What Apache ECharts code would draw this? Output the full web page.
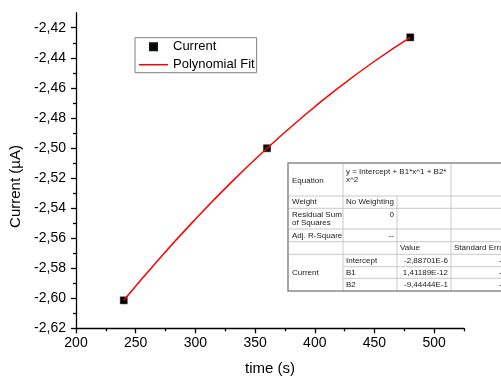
<!DOCTYPE html>
<html>
<head>
<meta charset="utf-8">
<script src="https://cdn.jsdelivr.net/npm/echarts@6/dist/echarts.min.js"></script>
<style>
html,body{margin:0;padding:0;background:#fff;}
#chart{width:501px;height:378px;}
</style>
</head>
<body>
<div id="chart"></div>
<script>
// ---- data ----
const timeValues = [240, 360, 480];
const currentValues = [-2.6014, -2.5002, -2.4264];
const fitTime = [240, 270, 300, 330, 360, 390, 420, 450, 480];
const fitCurrent = [-2.6014, -2.5735, -2.5474, -2.5229, -2.5002, -2.4792, -2.4599, -2.4423, -2.4264];
const xMajorTicks = [200, 250, 300, 350, 400, 450, 500];
const xMinorTicks = [225, 275, 325, 375, 425, 475, 525];
const yMajorTicks = [-2.62, -2.60, -2.58, -2.56, -2.54, -2.52, -2.50, -2.48, -2.46, -2.44, -2.42];
const yMinorTicks = [-2.61, -2.59, -2.57, -2.55, -2.53, -2.51, -2.49, -2.47, -2.45, -2.43];
const seriesNames = ['Current', 'Polynomial Fit'];
const xTitle = 'time (s)';
const yTitle = 'Current (µA)';
// fit report table texts
const reportLabels = ['Equation', 'Weight', 'Residual Sum\nof Squares', 'Adj. R-Square', '', 'Current'];
const reportEquation = 'y = Intercept + B1*x^1 + B2*\nx^2';
const reportWeight = 'No Weighting';
const reportRSS = '0';
const reportAdjR2 = '--';
const reportHeaders = ['Value', 'Standard Error'];
const paramNames = ['Intercept', 'B1', 'B2'];
const paramValues = ['-2,88701E-6', '1,41189E-12', '-9,44444E-1'];
const paramErrors = ['--', '--', '--'];

const FONT = '"Liberation Sans", Arial, sans-serif';
const fmtComma = (v, d) => v.toFixed(d).replace('.', ',');

const chart = echarts.init(document.getElementById('chart'), null, {renderer: 'canvas'});

// ---- table graphic ----
const cx = [288, 343, 397, 451, 545];
const ry = [163, 196, 208.3, 229, 241.7, 254.3, 266.7, 278.3, 291];
const gridCol = '#c8c8c8';
const txtCol = '#1a1a1a';
const tfs = 8;
const els = [];
els.push({type: 'rect', shape: {x: cx[0], y: ry[0], width: cx[4] - cx[0], height: ry[8] - ry[0]},
  style: {fill: '#fff', stroke: 'none'}, z: 10});
function hline(y, x1, x2) {
  els.push({type: 'line', shape: {x1: x1, y1: y, x2: x2, y2: y}, style: {stroke: gridCol, lineWidth: 1}, z: 11});
}
function vline(x, y1, y2) {
  els.push({type: 'line', shape: {x1: x, y1: y1, x2: x, y2: y2}, style: {stroke: gridCol, lineWidth: 1}, z: 11});
}
for (let i = 1; i <= 5; i++) hline(ry[i], cx[0], cx[4]);
hline(ry[6], cx[1], cx[4]);
hline(ry[7], cx[1], cx[4]);
vline(cx[1], ry[0], ry[8]);
vline(cx[2], ry[1], ry[8]);
vline(cx[3], ry[0], ry[8]);
els.push({type: 'rect', shape: {x: cx[0], y: ry[0], width: cx[4] - cx[0], height: ry[8] - ry[0]},
  style: {fill: 'none', stroke: '#8a8a8a', lineWidth: 1.5}, z: 12});
function txt(s, x, y, align, valign) {
  els.push({type: 'text', x: x, y: y, z: 13,
    style: {text: s, fill: txtCol, font: tfs + 'px ' + FONT, align: align || 'left', verticalAlign: valign || 'middle', lineHeight: 8.5}});
}
const mid = (a, b) => (a + b) / 2;
txt(reportLabels[0], cx[0] + 4, mid(ry[0], ry[1]) + 1.5);
txt(reportLabels[1], cx[0] + 4, mid(ry[1], ry[2]));
txt(reportLabels[2], cx[0] + 4, mid(ry[2], ry[3]));
txt(reportLabels[3], cx[0] + 4, mid(ry[3], ry[4]));
txt(reportLabels[5], cx[0] + 4, mid(ry[5], ry[8]));
txt(reportEquation, cx[1] + 3, ry[0] + 4.5, 'left', 'top');
txt(reportWeight, cx[1] + 3, mid(ry[1], ry[2]));
txt(reportRSS, cx[2] - 3, ry[2] + 6, 'right');
txt(reportAdjR2, cx[2] - 3, mid(ry[3], ry[4]), 'right');
txt(reportHeaders[0], cx[2] + 3, mid(ry[4], ry[5]));
txt(reportHeaders[1], cx[3] + 3, mid(ry[4], ry[5]));
for (let i = 0; i < 3; i++) {
  const yy = mid(ry[5 + i], ry[6 + i]);
  txt(paramNames[i], cx[1] + 3, yy);
  txt(paramValues[i], cx[3] - 3, yy, 'right');
  txt(paramErrors[i], cx[3] + 53, yy, 'right');
}

const axisLabelStyle = {fontFamily: FONT, fontSize: 14, color: '#000'};

chart.setOption({
  animation: false,
  backgroundColor: '#fff',
  grid: {left: 76, right: 37, top: 12.7, bottom: 49.7, containLabel: false, outerBoundsMode: 'none'},
  legend: {
    orient: 'vertical', left: 135, top: 37.7,
    padding: [1, 2, 1, 3], itemGap: 3, itemWidth: 29, itemHeight: 14,
    borderColor: '#808080', borderWidth: 1,
    textStyle: {fontFamily: FONT, fontSize: 13, color: '#000'},
    data: [
      {name: seriesNames[0], icon: 'path://M0,0M29,14M11,3.5h7v7h-7z'},
      {name: seriesNames[1], icon: 'path://M0,0M29,14M0,6.25h29v1.5h-29z'}
    ]
  },
  xAxis: [{
    type: 'value', min: 200, max: 525, interval: 25, position: 'bottom',
    name: xTitle, nameLocation: 'middle', nameGap: 33,
    nameTextStyle: {fontFamily: FONT, fontSize: 15, color: '#000'},
    axisLine: {show: true, onZero: false, lineStyle: {color: '#000', width: 1.3}},
    axisTick: {show: true, inside: false, length: 5, lineStyle: {color: '#000', width: 1.3}, customValues: xMajorTicks},
    axisLabel: {show: true, margin: 8, customValues: xMajorTicks, formatter: v => String(v), ...axisLabelStyle},
    splitLine: {show: false}
  }, {
    type: 'value', min: 200, max: 525, interval: 25, position: 'bottom',
    axisLine: {show: false, onZero: false},
    axisTick: {show: true, inside: false, length: 3, lineStyle: {color: '#000', width: 1.3}, customValues: xMinorTicks},
    axisLabel: {show: false},
    splitLine: {show: false}
  }],
  yAxis: [{
    type: 'value', min: -2.62, max: -2.41, interval: 0.01, position: 'left',
    name: yTitle, nameLocation: 'middle', nameGap: 48,
    nameTextStyle: {fontFamily: FONT, fontSize: 15, color: '#000', padding: [0, 32, 0, 0]},
    axisLine: {show: true, onZero: false, lineStyle: {color: '#000', width: 1.3}},
    axisTick: {show: true, inside: false, length: 5, lineStyle: {color: '#000', width: 1.3}, customValues: yMajorTicks},
    axisLabel: {show: true, margin: 10, customValues: yMajorTicks, formatter: v => fmtComma(v, 2), ...axisLabelStyle},
    splitLine: {show: false}
  }, {
    type: 'value', min: -2.62, max: -2.41, interval: 0.01, position: 'left',
    axisLine: {show: false, onZero: false},
    axisTick: {show: true, inside: false, length: 3, lineStyle: {color: '#000', width: 1.3}, customValues: yMinorTicks},
    axisLabel: {show: false},
    splitLine: {show: false}
  }],
  series: [{
    name: seriesNames[0], type: 'scatter', xAxisIndex: 0, yAxisIndex: 0,
    symbol: 'rect', symbolSize: 7,
    itemStyle: {color: '#000', borderColor: '#111', borderWidth: 0.5, opacity: 1},
    data: timeValues.map((t, i) => [t, currentValues[i]]),
    z: 3
  }, {
    name: seriesNames[1], type: 'line', xAxisIndex: 0, yAxisIndex: 0,
    smooth: true, symbol: 'none', showSymbol: false,
    lineStyle: {color: '#ff0000', width: 1.5},
    itemStyle: {color: '#ff0000'},
    data: fitTime.map((t, i) => [t, fitCurrent[i]]),
    z: 4
  }],
  graphic: {elements: els}
});
</script>
</body>
</html>
